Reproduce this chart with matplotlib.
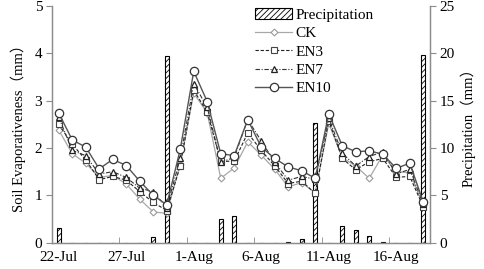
import numpy as np
import matplotlib
matplotlib.use('Agg')
import matplotlib.pyplot as plt

plt.rcParams['font.family'] = ['Liberation Serif', 'Noto Sans CJK SC']
plt.rcParams['hatch.linewidth'] = 0.6

DAYS = ['22-Jul', '23-Jul', '24-Jul', '25-Jul', '26-Jul', '27-Jul', '28-Jul',
        '29-Jul', '30-Jul', '31-Jul', '1-Aug', '2-Aug', '3-Aug', '4-Aug',
        '5-Aug', '6-Aug', '7-Aug', '8-Aug', '9-Aug', '10-Aug', '11-Aug',
        '12-Aug', '13-Aug', '14-Aug', '15-Aug', '16-Aug', '17-Aug', '18-Aug']

PRECIP = [1.5, 0, 0, 0, 0, 0, 0, 0.6, 19.7, 0, 0, 0, 2.5, 2.8,
          0, 0, 0, 0.1, 0.35, 12.6, 0, 1.75, 1.35, 0.7, 0.1, 0, 0, 19.8]

CK = [2.38, 1.88, 1.68, 1.38, 1.42, 1.24, 0.92, 0.65, 0.62, 1.66, 3.16, 2.74, 1.36, 1.58,
      2.13, 1.85, 1.55, 1.18, 1.27, 1.05, 2.52, 1.80, 1.62, 1.36, 1.85, 1.50, 1.48, 0.80]
EN3 = [2.50, 2.08, 1.75, 1.33, 1.40, 1.32, 1.08, 0.85, 0.68, 1.62, 3.22, 2.76, 1.72, 1.72,
       2.32, 1.95, 1.62, 1.25, 1.30, 1.04, 2.58, 1.78, 1.54, 1.71, 1.78, 1.38, 1.40, 0.76]
EN7 = [2.65, 1.95, 1.84, 1.45, 1.50, 1.38, 1.15, 1.08, 0.74, 1.78, 3.36, 2.86, 1.70, 1.80,
       2.60, 2.15, 1.70, 1.32, 1.40, 1.34, 2.63, 1.89, 1.62, 1.82, 1.92, 1.45, 1.55, 0.82]
EN10 = [2.74, 2.17, 2.02, 1.56, 1.76, 1.63, 1.30, 1.00, 0.80, 1.97, 3.62, 2.98, 1.88, 1.84,
        2.60, 2.02, 1.78, 1.60, 1.52, 1.36, 2.72, 2.05, 1.92, 1.94, 1.87, 1.57, 1.68, 0.86]

x = np.arange(len(DAYS))
axis_gray = '#8c8c8c'

fig = plt.figure(figsize=(4.84, 2.69), dpi=100)
ax = fig.add_axes([0.1074, 0.0978, 0.7810, 0.8799])
ax2 = ax.twinx()

# precipitation bars on the secondary axis, behind the lines
bars = ax2.bar(x, PRECIP, width=0.3, color='white', edgecolor='black',
               linewidth=0.8, hatch='//////', label='Precipitation')
ax2.set_ylim(0, 25)
ax2.set_yticks(np.arange(0, 26, 5))
ax2.set_ylabel('Precipitation（mm）', fontsize=10.5, labelpad=4)

ax.set_zorder(ax2.get_zorder() + 1)
ax.patch.set_visible(False)

l1, = ax.plot(x, CK, color='#a8a8a8', lw=0.9, ls='-', marker='D', ms=3.5,
              mfc='white', mec='#9a9a9a', mew=0.8, label='CK')
l2, = ax.plot(x, EN3, color='#222222', lw=0.8, ls=(0, (3, 1.6)), marker='s', ms=4.5,
              mfc='white', mec='#444444', mew=0.8, label='EN3')
l3, = ax.plot(x, EN7, color='#333333', lw=0.8, ls=(0, (4, 1.5, 1, 1.5)), marker='^', ms=5,
              mfc='white', mec='#222222', mew=0.9, label='EN7')
l4, = ax.plot(x, EN10, color='#555555', lw=1.0, ls='-', marker='o', ms=6,
              mfc='white', mec='#333333', mew=0.9, label='EN10')

ax.set_xlim(-0.5, len(DAYS) - 0.5)
ax.set_ylim(0, 5)
ax.set_yticks(np.arange(0, 6, 1))
ax.set_ylabel('Soil Evaporativeness（mm）', fontsize=10.5, labelpad=6)

ax.set_xticks(x[::5])
ax.set_xticklabels(DAYS[::5])
ax.set_xticks(np.arange(4.5, len(DAYS), 5), minor=True)
ax.tick_params(axis='x', which='major', length=0, pad=6, labelsize=11)
ax.tick_params(axis='x', which='minor', direction='in', length=4, color=axis_gray)
ax.tick_params(axis='y', direction='out', length=4, color=axis_gray, labelsize=11, pad=3)
ax2.tick_params(axis='y', direction='out', length=4, color=axis_gray, labelsize=11, pad=3)

for a in (ax, ax2):
    a.spines['top'].set_visible(False)
    for s in ('left', 'right', 'bottom'):
        a.spines[s].set_color(axis_gray)
        a.spines[s].set_linewidth(0.9)

leg = ax.legend([bars, l1, l2, l3, l4], ['Precipitation', 'CK', 'EN3', 'EN7', 'EN10'],
                loc='upper left', bbox_to_anchor=(0.51, 1.035), frameon=False,
                fontsize=11, handlelength=2.4, handletextpad=0.2, labelspacing=0.3,
                borderpad=0.2)

fig.savefig('out.png', dpi=100)
